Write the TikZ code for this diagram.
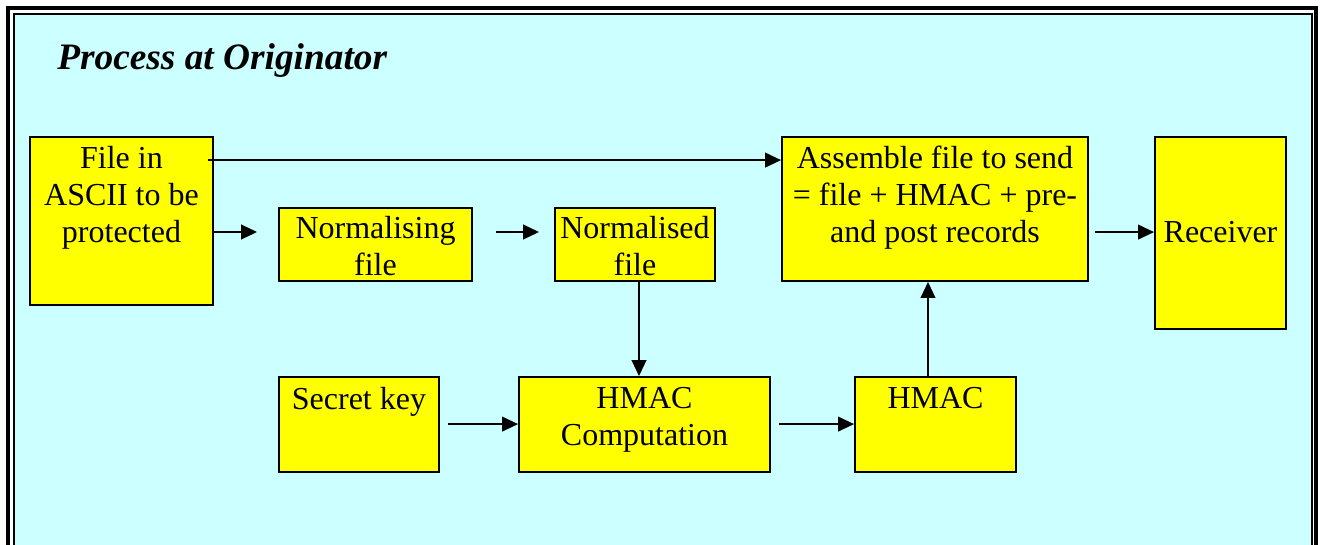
\documentclass[tikz,border=0pt]{standalone}
\usepackage{fontspec}
\setmainfont{Liberation Serif}
\usetikzlibrary{arrows.meta,calc,fit}
\definecolor{bgc}{HTML}{CCFFFF}
\definecolor{boxc}{HTML}{FFFF00}
\newcommand{\bt}[1]{\parbox[t]{8cm}{\centering\fontsize{24}{28}\selectfont #1}}
\begin{document}
\begin{tikzpicture}[x=0.75pt,y=-0.75pt,
  box/.style={draw=black, line width=1.4pt, fill=boxc, inner sep=0pt},
  txt/.style={inner sep=0pt, anchor=base},
  arr/.style={line width=1.5pt, -{Triangle[length=12pt,width=11pt]}}]
\useasboundingbox (0,0) rectangle (1324,544);
\clip (0,0) rectangle (1324,544);
\fill[white] (0,0) rectangle (1324,544);
\fill[bgc] (13.5,13.5) rectangle (1311.5,600);
\draw[line width=2.4pt] (8,600) -- (8,8) -- (1316,8) -- (1316,600);
\draw[line width=1.5pt] (13.5,600) -- (13.5,13.5) -- (1311.5,13.5) -- (1311.5,600);
\node[anchor=base west, inner sep=0pt, font=\fontsize{28}{32}\selectfont\bfseries\itshape] (title) at (57,69) {Process at Originator};
% boxes
\node[box, fit={(30,137) (213,305)}] (file) {};
\node[box, fit={(279,208) (472,281)}] (norm) {};
\node[box, fit={(555,208) (715,281)}] (normd) {};
\node[box, fit={(782,137) (1088,281)}] (asm) {};
\node[box, fit={(1155,137) (1286,329)}] (recv) {};
\node[box, fit={(279,377) (439,472)}] (key) {};
\node[box, fit={(519,377) (770,472)}] (hmacc) {};
\node[box, fit={(855,377) (1016,472)}] (hmac) {};
% texts
\node[txt] (fileT) at ($(file.north)+(0,32)$) {\bt{File in\\ASCII to be\\protected}};
\node[txt] (normT) at ($(norm.north)+(0,31)$) {\bt{Normalising\\file}};
\node[txt] (normdT) at ($(normd.north)+(0,31)$) {\bt{Normalised\\file}};
\node[txt] (asmT) at ($(asm.north)+(0,32)$) {\bt{Assemble file to send\\= file + HMAC + pre-\\and post records}};
\node[txt] (recvT) at ($(recv.north)+(0,106)$) {\bt{Receiver}};
\node[txt] (keyT) at ($(key.north)+(0,33)$) {\bt{Secret key}};
\node[txt] (hmaccT) at ($(hmacc.north)+(0,32)$) {\bt{HMAC\\Computation}};
\node[txt] (hmacT) at ($(hmac.north)+(0,32)$) {\bt{HMAC}};
% connectors
\coordinate (a1) at ($(file.north east)+(-6,24)$);
\draw[arr] (a1) -- (a1 -| asm.west);
\coordinate (a2) at ($(file.east)+(0,11)$);
\draw[arr] (a2) -- ($(a2 -| norm.west)+(-21,0)$);
\coordinate (a3) at ($(norm.east)+(23,-12.5)$);
\draw[arr] (a3) -- ($(a3 -| normd.west)+(-15,0)$);
\coordinate (a4) at ($(normd.south)+(4,0)$);
\draw[arr] (a4) -- (a4 |- hmacc.north);
\coordinate (a5) at ($(key.north east)+(8,48)$);
\draw[arr] (a5) -- (a5 -| hmacc.west);
\coordinate (a6) at ($(hmacc.north east)+(8,48)$);
\draw[arr] (a6) -- (a6 -| hmac.west);
\coordinate (a7) at ($(hmac.north)+(-7.5,0)$);
\draw[arr] (a7) -- (a7 |- asm.south);
\coordinate (a8) at ($(asm.north east)+(6,96)$);
\draw[arr] (a8) -- (a8 -| recv.west);
\end{tikzpicture}
\end{document}
